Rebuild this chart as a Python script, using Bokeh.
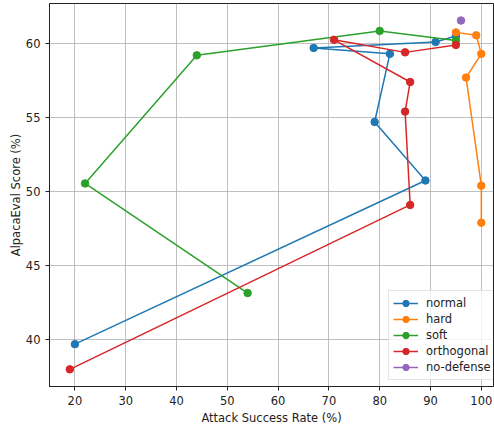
from bokeh.plotting import figure
from bokeh.models import FixedTicker, Range1d, Legend, LegendItem
from bokeh.embed import file_html
from bokeh.resources import INLINE

normal_x = [20, 89, 79, 82, 67, 91, 95]
normal_y = [39.7, 50.75, 54.7, 59.3, 59.7, 60.1, 60.5]
hard_x = [95, 99, 100, 97, 100, 100]
hard_y = [60.75, 60.55, 59.3, 57.7, 50.4, 47.9]
soft_x = [54, 22, 44, 80, 95]
soft_y = [43.15, 50.55, 59.2, 60.85, 60.2]
orth_x = [19, 86, 85, 86, 71, 85, 95]
orth_y = [38.0, 49.1, 55.4, 57.4, 60.25, 59.4, 59.9]
nodef_x = [96]
nodef_y = [61.55]

x_ticks = [20, 30, 40, 50, 60, 70, 80, 90, 100]
y_ticks = [40, 45, 50, 55, 60]

series = [
    ("normal", normal_x, normal_y, "#1f77b4"),
    ("hard", hard_x, hard_y, "#ff7f0e"),
    ("soft", soft_x, soft_y, "#2ca02c"),
    ("orthogonal", orth_x, orth_y, "#d62728"),
    ("no-defense", nodef_x, nodef_y, "#9467bd"),
]

p = figure(width=494, height=427, output_backend="svg", toolbar_location=None,
           x_range=Range1d(15, 102.4), y_range=Range1d(36.84, 62.7),
           min_border_left=49, min_border_right=1, min_border_top=3, min_border_bottom=40)

FONT = "DejaVu Sans"
FS = "11.5px"

p.xgrid.ticker = FixedTicker(ticks=x_ticks)
p.ygrid.ticker = FixedTicker(ticks=y_ticks)
p.grid.grid_line_color = "#b0b0b0"
p.grid.grid_line_width = 0.8

items = []
for name, xs, ys, c in series:
    lx, ly = (xs, ys) if len(xs) > 1 else (xs * 2, ys * 2)
    rs = [p.line(lx, ly, line_color=c, line_width=1.5)]
    rs.append(p.scatter(xs, ys, size=7.5, fill_color=c, line_color=c, marker="circle"))
    items.append(LegendItem(label=name, renderers=rs))

legend = Legend(items=items, location=(339, 6))
legend.label_text_font = FONT
legend.label_text_font_size = FS
legend.label_text_color = "#222222"
legend.label_height = 16
legend.glyph_height = 16
legend.glyph_width = 25
legend.spacing = 0
legend.padding = 4
legend.margin = 0
legend.label_standoff = 8
legend.border_line_color = "#cccccc"
legend.border_line_width = 1
legend.background_fill_alpha = 0.8
p.add_layout(legend, "center")

for ax in (p.xaxis, p.yaxis):
    ax.axis_label_text_font = FONT
    ax.axis_label_text_font_size = FS
    ax.axis_label_text_font_style = "normal"
    ax.axis_label_text_color = "#222222"
    ax.major_label_text_font = FONT
    ax.major_label_text_font_size = FS
    ax.major_label_text_color = "#222222"
    ax.minor_tick_line_color = None
    ax.major_tick_out = 4
    ax.major_tick_in = 0
    ax.axis_line_color = "#222222"
    ax.major_tick_line_color = "#222222"

p.xaxis.axis_label = "Attack Success Rate (%)"
p.yaxis.axis_label = "AlpacaEval Score (%)"
p.xaxis.ticker = FixedTicker(ticks=x_ticks)
p.yaxis.ticker = FixedTicker(ticks=y_ticks)
p.xaxis.axis_label_standoff = 3
p.yaxis.axis_label_standoff = 0

p.outline_line_color = "#222222"
p.outline_line_alpha = 1
p.outline_line_width = 1

open("out.html", "w").write(file_html(p, INLINE))
